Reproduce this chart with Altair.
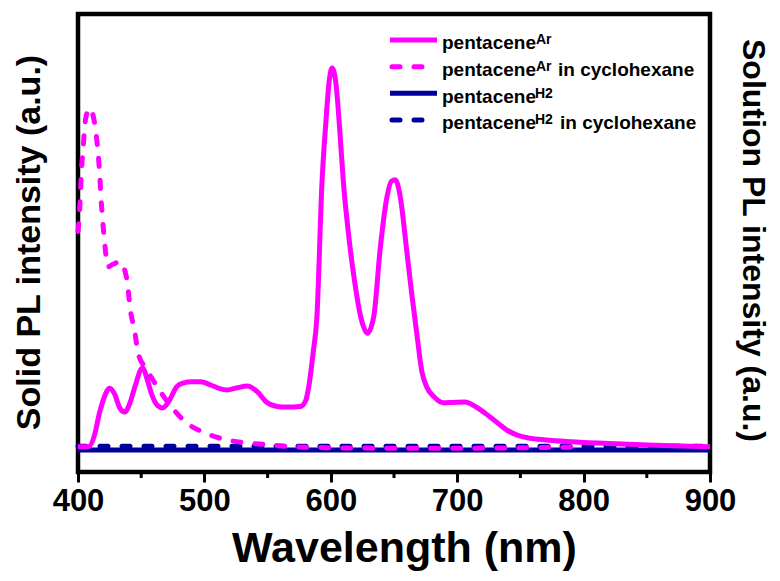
import altair as alt
import pandas as pd

# ---------------- data ----------------
solid_ar_wl = [400, 405, 409, 413, 417, 421, 425, 429, 433, 437,
               441, 445, 451, 455, 458, 463, 467, 472, 478, 483,
               490, 497, 505, 512, 518, 526, 534, 542, 549, 556,
               562, 570, 576, 580, 583, 586, 589, 593, 596, 599,
               601, 604, 607, 610, 614, 619, 624, 629, 634, 639,
               644, 648, 651, 655, 660, 664, 668, 672, 676, 682,
               689, 697, 706, 715, 726, 733, 739, 748, 757, 770,
               791, 820, 850, 900]
solid_ar_val = [5.5, 5.5, 5.6, 8.0, 12.9, 16.5, 18.3, 17.0, 14.0, 13.1,
                15.0, 18.6, 22.7, 20.0, 17.2, 14.5, 14.0, 15.5, 18.6, 19.4,
                19.7, 19.7, 19.0, 18.2, 17.9, 18.4, 18.8, 17.5, 15.3, 14.4,
                14.2, 14.2, 14.3, 15.5, 19.4, 26.0, 33.8, 63.1, 76.0, 86.0,
                88.2, 85.0, 75.0, 63.1, 52.0, 41.3, 33.5, 30.3, 34.0, 48.5,
                59.4, 63.5, 63.8, 60.0, 48.5, 39.0, 30.3, 22.0, 18.5, 16.3,
                15.1, 15.2, 15.3, 14.2, 12.0, 10.5, 9.2, 8.0, 7.4, 7.0,
                6.6, 6.2, 5.9, 5.5]

dash_ar_wl = [400, 400.8, 401.8, 402.6, 404, 405.3, 407.2, 409.3, 411.5, 413.7,
              415.8, 417.2, 418.2, 419.5, 421.1, 423.7, 428, 433.2, 438.8, 441.1,
              445.1, 447.5, 454, 460.9, 472.8, 486, 499, 518, 536, 553,
              570, 600, 650, 700, 750, 800]
dash_ar_val = [52.5, 55.0, 60.0, 65.3, 70.3, 75.4, 78.5, 79.4, 78.3, 75.1,
               69.9, 64.8, 59.8, 55.0, 50.0, 44.8, 45.4, 45.9, 41.9, 36.0,
               30.3, 26.0, 22.5, 19.4, 14.6, 10.7, 8.7, 7.0, 6.3, 5.9,
               5.5, 5.3, 5.2, 5.2, 5.3, 5.5]

h2_wl = [400, 500, 600, 700, 800, 900]
h2_solid_val = [4.8, 4.8, 4.8, 4.8, 4.8, 4.8]
h2_dash_val = [5.6, 5.6, 5.6, 5.6, 5.6, 5.6]

x_ticks = [400, 500, 600, 700, 800, 900]
minor_ticks = [450, 550, 650, 750, 850]

legend_main = ["pentacene", "pentacene", "pentacene", "pentacene"]
legend_sup = ["Ar", "Ar", "H2", "H2"]
legend_suffix = ["", "in cyclohexane", "", "in cyclohexane"]

# ---------------- styles ----------------
MAGENTA = "#FF00FF"
NAVY = "#00009C"
FONT = "Liberation Sans"
LW = 5
DASH = [8, 14]

xscale = alt.Scale(domain=[400, 900], nice=False, zero=False)
yscale = alt.Scale(domain=[0, 100], nice=False, zero=False)

xaxis = alt.Axis(
    values=x_ticks, format="d", title="Wavelength (nm)",
    domain=False, grid=False, ticks=True, tickSize=10, tickWidth=3,
    tickColor="black", labelFont=FONT, labelFontSize=31,
    labelFontWeight="bold", labelColor="black", labelPadding=4,
    labelFlush=False, labelOverlap=False,
    titleFont=FONT, titleFontSize=43, titleFontWeight="bold",
    titleColor="black", titleX=326, titleY=76, titleAlign="center",
    titleBaseline="middle",
)

left_axis = alt.Axis(
    orient="left", labels=False, ticks=False, domain=False, grid=False,
    title="Solid PL intensity (a.u.)", titleFont=FONT, titleFontSize=34,
    titleFontWeight="bold", titleColor="black", titleAngle=270,
    titleX=-49, titleY=228, titleAlign="center", titleBaseline="middle",
)
right_axis = alt.Axis(
    orient="right", labels=False, ticks=False, domain=False, grid=False,
    title="Solution PL intensity (a.u.)", titleFont=FONT, titleFontSize=32,
    titleFontWeight="bold", titleColor="black", titleAngle=90,
    titleX=42, titleY=226, titleAlign="center", titleBaseline="middle",
)


def X():
    return alt.X("wl:Q", scale=xscale, axis=xaxis)


df_h2s = pd.DataFrame({"wl": h2_wl, "v": h2_solid_val})
df_h2d = pd.DataFrame({"wl": h2_wl, "v": h2_dash_val})
df_ard = pd.DataFrame({"wl": dash_ar_wl, "v": dash_ar_val})
df_ars = pd.DataFrame({"wl": solid_ar_wl, "v": solid_ar_val})
df_minor = pd.DataFrame({"wl": minor_ticks})

h2_solid = alt.Chart(df_h2s).mark_line(color=NAVY, strokeWidth=LW).encode(
    x=X(), y=alt.Y("v:Q", scale=yscale, axis=left_axis))
h2_dash = alt.Chart(df_h2d).mark_line(
    color=NAVY, strokeWidth=LW, strokeDash=DASH, strokeCap="round").encode(
    x=X(), y=alt.Y("v:Q", scale=yscale, axis=right_axis))
ar_dash = alt.Chart(df_ard).mark_line(
    color=MAGENTA, strokeWidth=LW, strokeDash=DASH, strokeCap="round",
    interpolate="monotone").encode(
    x=X(), y=alt.Y("v:Q", scale=yscale, axis=None))
ar_solid = alt.Chart(df_ars).mark_line(
    color=MAGENTA, strokeWidth=LW, interpolate="monotone").encode(
    x=X(), y=alt.Y("v:Q", scale=yscale, axis=None))

minor = alt.Chart(df_minor).mark_rule(color="black", strokeWidth=3).encode(
    x=X(), y=alt.value(458), y2=alt.value(464))

# ---------------- legend ----------------
legend_layers = []
line_y = [26, 52.7, 79.3, 106]
colors = [MAGENTA, MAGENTA, NAVY, NAVY]
dashed = [False, True, False, True]
sup_x = [458, 458, 457, 457]
suf_x = [480, 480, 482, 482]
for i in range(4):
    base = line_y[i] + 9.3
    one = pd.DataFrame({"main": [legend_main[i]], "sup": [legend_sup[i]],
                        "suf": [legend_suffix[i]]})
    kw = dict(color=colors[i], strokeWidth=LW)
    if dashed[i]:
        kw.update(strokeDash=DASH, strokeCap="round")
        x1, x2 = 314, 357
    else:
        x1, x2 = 312, 359
    legend_layers.append(alt.Chart(one).mark_rule(**kw).encode(
        x=alt.value(x1), x2=alt.value(x2), y=alt.value(line_y[i])))
    txt = dict(font=FONT, fontWeight="bold", align="left",
               baseline="alphabetic", color="black")
    legend_layers.append(alt.Chart(one).mark_text(fontSize=19, **txt).encode(
        x=alt.value(364), y=alt.value(base), text="main:N"))
    legend_layers.append(alt.Chart(one).mark_text(fontSize=14, **txt).encode(
        x=alt.value(sup_x[i]), y=alt.value(base - 5), text="sup:N"))
    if legend_suffix[i]:
        legend_layers.append(alt.Chart(one).mark_text(fontSize=19, **txt).encode(
            x=alt.value(suf_x[i]), y=alt.value(base), text="suf:N"))

chart = alt.layer(h2_solid, h2_dash, ar_dash, ar_solid, minor, *legend_layers
                  ).resolve_axis(y="independent").properties(
    width=632, height=458,
    padding={"left": 70, "top": 6, "right": 62, "bottom": 101},
    autosize=alt.AutoSizeParams(type="none"),
    background="white",
).configure_view(stroke="black", strokeWidth=4.5)

chart.save("out.html", embed_options={"renderer": "svg", "actions": False})
